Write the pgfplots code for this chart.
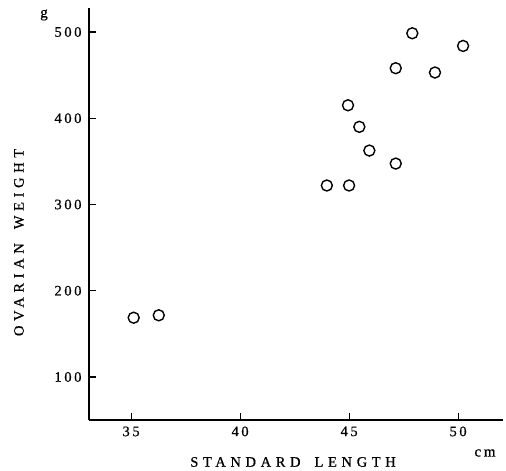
\documentclass[border=0pt]{standalone}
\usepackage{fontspec}
\setmainfont{Liberation Serif}
\newfontfamily\spaced[LetterSpace=18, FakeBold=0.6]{Liberation Serif}
\newfontfamily\wide[LetterSpace=32, FakeBold=0.6]{Liberation Serif}
\usepackage{pgfplots}
\pgfplotsset{compat=1.18}

\begin{document}
\begin{tikzpicture}
\begin{axis}[
  scale only axis,
  width=414pt, height=412pt,
  xmin=33.07, xmax=52.06,
  ymin=50.1, ymax=527.8,
  axis x line=bottom, axis y line=left,
  axis line style={-, line width=1.1pt},
  tick align=inside,
  major tick length=7pt,
  tick style={line width=1.1pt, black},
  xtick={35,40,45,50},
  ytick={100,200,300,400,500},
  /pgf/number format/assume math mode=true,
  tick label style={font=\fontsize{14.5}{16}\selectfont\spaced},
  yticklabel style={xshift=-4pt},
  xticklabel style={yshift=-3pt},
  clip=false,
]
% ovarian weight (g) vs standard length (cm)
\addplot[only marks, mark=o, mark size=5.5pt, line width=1.4pt, black]
  coordinates {
    (35.12, 168.7)
    (36.27, 171.5)
    (43.98, 322.0)
    (45.00, 322.0)
    (45.93, 362.5)
    (47.14, 347.4)
    (45.47, 390.0)
    (44.95, 415.0)
    (47.14, 458.0)
    (48.94, 453.0)
    (47.90, 498.5)
    (50.23, 483.8)
  };
\coordinate (ll) at (rel axis cs:0,0);
\coordinate (ur) at (rel axis cs:1,1);
\node[font=\fontsize{14.5}{16}\selectfont\wide] at ([yshift=-42pt]axis cs:42.43,50.1) {STANDARD\hspace{14pt}LENGTH};
\node[font=\fontsize{14.5}{16}\selectfont\wide, rotate=90] at ([xshift=-70pt]axis cs:33.07,256) {OVARIAN\hspace{14pt}WEIGHT};
\node[font=\fontsize{15}{16}\selectfont\spaced] at ([xshift=-45pt, yshift=-7pt]axis cs:33.07,527.8) {g};
\node[font=\fontsize{15}{16}\selectfont\spaced] at ([xshift=-18pt, yshift=-33pt]axis cs:52.06,50.1) {cm};
\end{axis}
\pgfresetboundingbox
\path ([shift={(-89pt,-51pt)}]ll) rectangle ([shift={(3pt,8pt)}]ur);
\end{tikzpicture}
\end{document}
